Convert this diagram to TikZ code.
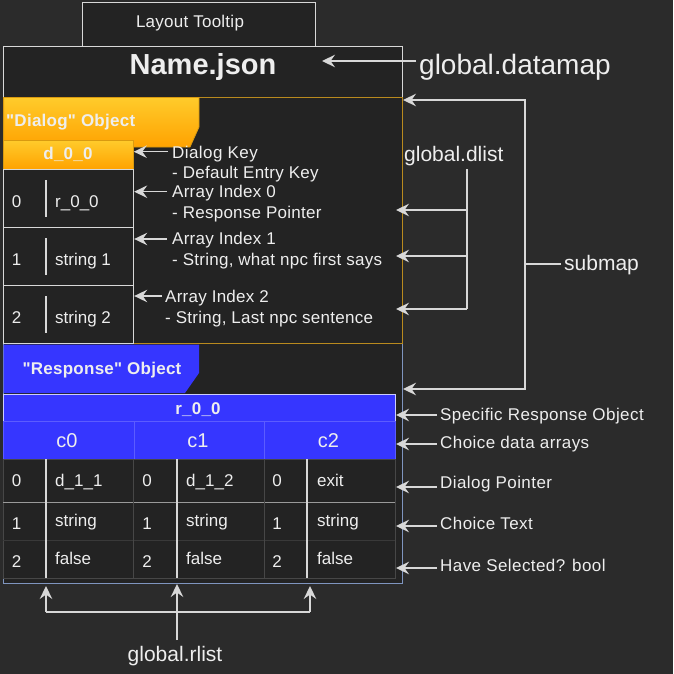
\documentclass[tikz,border=0pt]{standalone}
\usepackage{fontspec}
\setmainfont{Liberation Sans}[Ligatures=TeXOff]
\usetikzlibrary{arrows.meta}
\definecolor{bg}{HTML}{2B2B2B}
\definecolor{inner}{HTML}{232323}
\definecolor{fg}{HTML}{EEEEEE}
\definecolor{ln}{HTML}{D8D8D8}
\definecolor{gold}{HTML}{B98A1E}
\definecolor{goldtop}{HTML}{FFCB2B}
\definecolor{goldbot}{HTML}{FFA200}
\definecolor{goldedge}{HTML}{D99A10}
\definecolor{rblue}{HTML}{3636FF}
\definecolor{rline}{HTML}{7F95BF}
\definecolor{cdiv}{HTML}{5C5CFF}
\definecolor{dgrid}{HTML}{474747}
\definecolor{lgrid}{HTML}{9A9A9A}
\newcommand\fsz[1]{\fontsize{#1}{#1}\selectfont}
\begin{document}
\begin{tikzpicture}[x=1pt,y=-1pt,
  box/.style={draw=ln, fill=inner, line width=1.2pt, inner sep=0pt, anchor=north west},
  txt/.style={text=fg, inner sep=0pt, font=\fsz{17}},
  ltxt/.style={text=fg, inner sep=0pt, font=\fsz{17}\addfontfeature{LetterSpace=2.5}},
  dtxt/.style={text=fg, inner sep=0pt, font=\fsz{17}\addfontfeature{LetterSpace=1.5}},
  btxt/.style={text=fg, inner sep=0pt, font=\bfseries\fsz{17}\addfontfeature{LetterSpace=1.5}},
  arr/.style={draw=ln, line width=1.3pt, -{Stealth[length=13pt,width=12.5pt,inset=4.5pt]}},
  plain/.style={draw=ln, line width=1.3pt},
  cell/.style={fill=rblue, draw=cdiv, line width=1pt, inner sep=0pt, anchor=north west, minimum width=130.67pt, minimum height=38pt}
]
\fill[bg] (0,0) rectangle (673,674);
\useasboundingbox (0,0) rectangle (673,674);

% header boxes
\node[box, minimum width=233pt, minimum height=44pt] (tooltip) at (82,2) {};
\node[dtxt, anchor=base] (tiptext) at (190,28) {Layout Tooltip};
\node[box, minimum width=399pt, minimum height=51pt] (main) at (3,46) {};
\node[txt, anchor=base, font=\bfseries\fsz{29}] (name) at (203,75) {Name.json};

% response box
\node[draw=rline, fill=inner, line width=1.3pt, inner sep=0pt, anchor=north west, minimum width=399pt, minimum height=240pt] (rbox) at (3,343) {};
% dialog box
\node[draw=gold, fill=inner, line width=1.3pt, inner sep=0pt, anchor=north west, minimum width=399pt, minimum height=246pt] (dbox) at (3,97) {};

% dialog tab
\shade[top color=goldtop, bottom color=goldbot, draw=goldedge, line width=0.8pt] (3.6,97.6) -- (199,97.6) -- (199,127) -- (190,147) -- (3.6,147) -- cycle;
\node[btxt, anchor=base west] (dtab) at (6,127) {"Dialog" Object};
\node[top color=goldtop, bottom color=goldbot, draw=goldedge, line width=0.8pt, inner sep=0pt, anchor=north west, minimum width=130pt, minimum height=29pt] (dkey) at (3,140) {};
\node[btxt, anchor=base] (dkeytext) at (68,159) {d\_0\_0};

% dialog rows
\node[box, minimum width=130pt, minimum height=58pt] (drow0) at (3,169) {};
\node[box, minimum width=130pt, minimum height=58pt] (drow1) at (3,227) {};
\node[box, minimum width=130pt, minimum height=58pt] (drow2) at (3,285) {};
\draw[plain] (46,180) -- (46,217);
\draw[plain] (46,238) -- (46,275);
\draw[plain] (46,296) -- (46,333);
\node[txt, anchor=base] (di0) at (16.5,207) {0};
\node[txt, anchor=base west] (dv0) at (55,207) {r\_0\_0};
\node[txt, anchor=base] (di1) at (16.5,265) {1};
\node[txt, anchor=base west] (dv1) at (55,265) {string 1};
\node[txt, anchor=base] (di2) at (16.5,323) {2};
\node[txt, anchor=base west] (dv2) at (55,323) {string 2};

% dialog labels
\node[ltxt, anchor=base west] (lkey) at (172,158) {Dialog Key};
\node[dtxt, anchor=base west] (lkeyb) at (172,178) {- Default Entry Key};
\node[dtxt, anchor=base west] (lai0) at (172,197) {Array Index 0};
\node[dtxt, anchor=base west] (lai0b) at (172,218) {- Response Pointer};
\node[dtxt, anchor=base west] (lai1) at (172,244) {Array Index 1};
\node[dtxt, anchor=base west] (lai1b) at (172,265) {- String, what npc first says};
\node[dtxt, anchor=base west] (lai2) at (165,302) {Array Index 2};
\node[dtxt, anchor=base west] (lai2b) at (165,323) {- String, Last npc sentence};
\coordinate (skey) at (168,151.7);
\coordinate (sai0) at (167,191.7);
\coordinate (sai1) at (167,239);
\coordinate (sai2) at (162,296);
\draw[arr] (skey) -- (skey -| dkey.east);
\draw[arr] (sai0) -- (sai0 -| drow0.east);
\draw[arr] (sai1) -- (sai1 -| drow1.east);
\draw[arr] (sai2) -- (sai2 -| drow2.east);

% response tab
\fill[rblue] (3.6,344.6) -- (199,344.6) -- (199,373) -- (185,393) -- (3.6,393) -- cycle;
\node[btxt, anchor=base] (rtab) at (102,374) {"Response" Object};
\node[fill=rblue, draw={rgb,255:red,205;green,205;blue,255}, line width=1pt, inner sep=0pt, anchor=north west, minimum width=392pt, minimum height=27pt] (rhead) at (3,394) {};
\node[btxt, anchor=base] (rheadtext) at (198,414) {r\_0\_0};
\node[cell] (c0) at (3,421) {};
\node[cell] (c1) at (133.67,421) {};
\node[cell] (c2) at (264.33,421) {};
\node[txt, anchor=base, font=\fsz{20}] (c0t) at (67,447) {c0};
\node[txt, anchor=base, font=\fsz{20}] (c1t) at (198,447) {c1};
\node[txt, anchor=base, font=\fsz{20}] (c2t) at (328.5,447) {c2};

% response data
\node[fill=inner, draw=dgrid, line width=1pt, inner sep=0pt, anchor=north west, minimum width=392pt, minimum height=119pt] (rdata) at (3,459) {};
\draw[draw=lgrid, line width=1pt] (3,502.3) -- (395,502.3);
\draw[draw=dgrid!80!black, line width=1pt] (3,540) -- (395,540);
\draw[draw=dgrid, line width=1pt] (133.5,459) -- (133.5,578);
\draw[draw=dgrid, line width=1pt] (264,459) -- (264,578);
\draw[draw=ln, line width=1.1pt] (46,459) -- (46,578);
\draw[draw=ln, line width=1.1pt] (177,459) -- (177,578);
\draw[draw=ln, line width=1.1pt] (307,459) -- (307,578);

\node[txt, anchor=base] (r00) at (16.5,486) {0};
\node[txt, anchor=base west] (r01) at (55,486) {d\_1\_1};
\node[txt, anchor=base] (r02) at (147,486) {0};
\node[txt, anchor=base west] (r03) at (186,486) {d\_1\_2};
\node[txt, anchor=base] (r04) at (277,486) {0};
\node[txt, anchor=base west] (r05) at (317,486) {exit};
\node[txt, anchor=base] (r10) at (16.5,529) {1};
\node[txt, anchor=base west] (r11) at (55,526) {string};
\node[txt, anchor=base] (r12) at (147,529) {1};
\node[txt, anchor=base west] (r13) at (186,526) {string};
\node[txt, anchor=base] (r14) at (277,529) {1};
\node[txt, anchor=base west] (r15) at (317,526) {string};
\node[txt, anchor=base] (r20) at (16.5,567) {2};
\node[txt, anchor=base west] (r21) at (55,564) {false};
\node[txt, anchor=base] (r22) at (147,567) {2};
\node[txt, anchor=base west] (r23) at (186,564) {false};
\node[txt, anchor=base] (r24) at (277,567) {2};
\node[txt, anchor=base west] (r25) at (317,564) {false};

% right labels of response
\node[ltxt, anchor=base west] (lsro) at (440,420) {Specific Response Object};
\node[ltxt, anchor=base west] (lcda) at (440,448) {Choice data arrays};
\node[ltxt, anchor=base west] (ldp) at (440,488) {Dialog Pointer};
\node[ltxt, anchor=base west] (lct) at (440,529) {Choice Text};
\node[ltxt, anchor=base west] (lhs) at (440,571) {Have Selected? bool};
\coordinate (ssro) at (437,415);
\coordinate (scda) at (437,444);
\coordinate (sdp) at (437,487);
\coordinate (sct) at (437,526);
\coordinate (shs) at (437,568);
\draw[arr] (ssro) -- (396,415);
\draw[arr] (scda) -- (396,444);
\draw[arr] (sdp) -- (396,487);
\draw[arr] (sct) -- (396,526);
\draw[arr] (shs) -- (396,568);

% global.datamap
\node[txt, anchor=base west, font=\fsz{28}] (datamap) at (419,75) {global.datamap};
\coordinate (sdm) at (416,61);
\coordinate (tdm) at (322,61);
\draw[arr] (sdm) -- (tdm);

% global.dlist
\node[txt, anchor=base west, font=\fsz{21}] (dlist) at (404,161) {global.dlist};
\coordinate (dltop) at (467,169);
\coordinate (dlbot) at (467,309);
\draw[plain] (dltop) -- (dlbot);
\draw[arr] (dlbot) -- (396,309);
\draw[arr] (467,210) -- (396,210);
\draw[arr] (467,256) -- (396,256);

% submap
\node[txt, anchor=base west, font=\fsz{21}] (submap) at (564,270) {submap};
\coordinate (smj) at (525,264);
\draw[plain] (561,264) -- (smj);
\draw[arr] (smj) |- (403,100);
\draw[arr] (smj) |- (403,389);

% global.rlist
\node[txt, anchor=base, font=\fsz{21}] (rlist) at (175,661) {global.rlist};
\draw[arr] (177,640) -- (177,584);
\draw[plain] (46,612) -- (310,612);
\draw[arr] (46,612) -- (46,586);
\draw[arr] (310,612) -- (310,586);
\end{tikzpicture}
\end{document}
